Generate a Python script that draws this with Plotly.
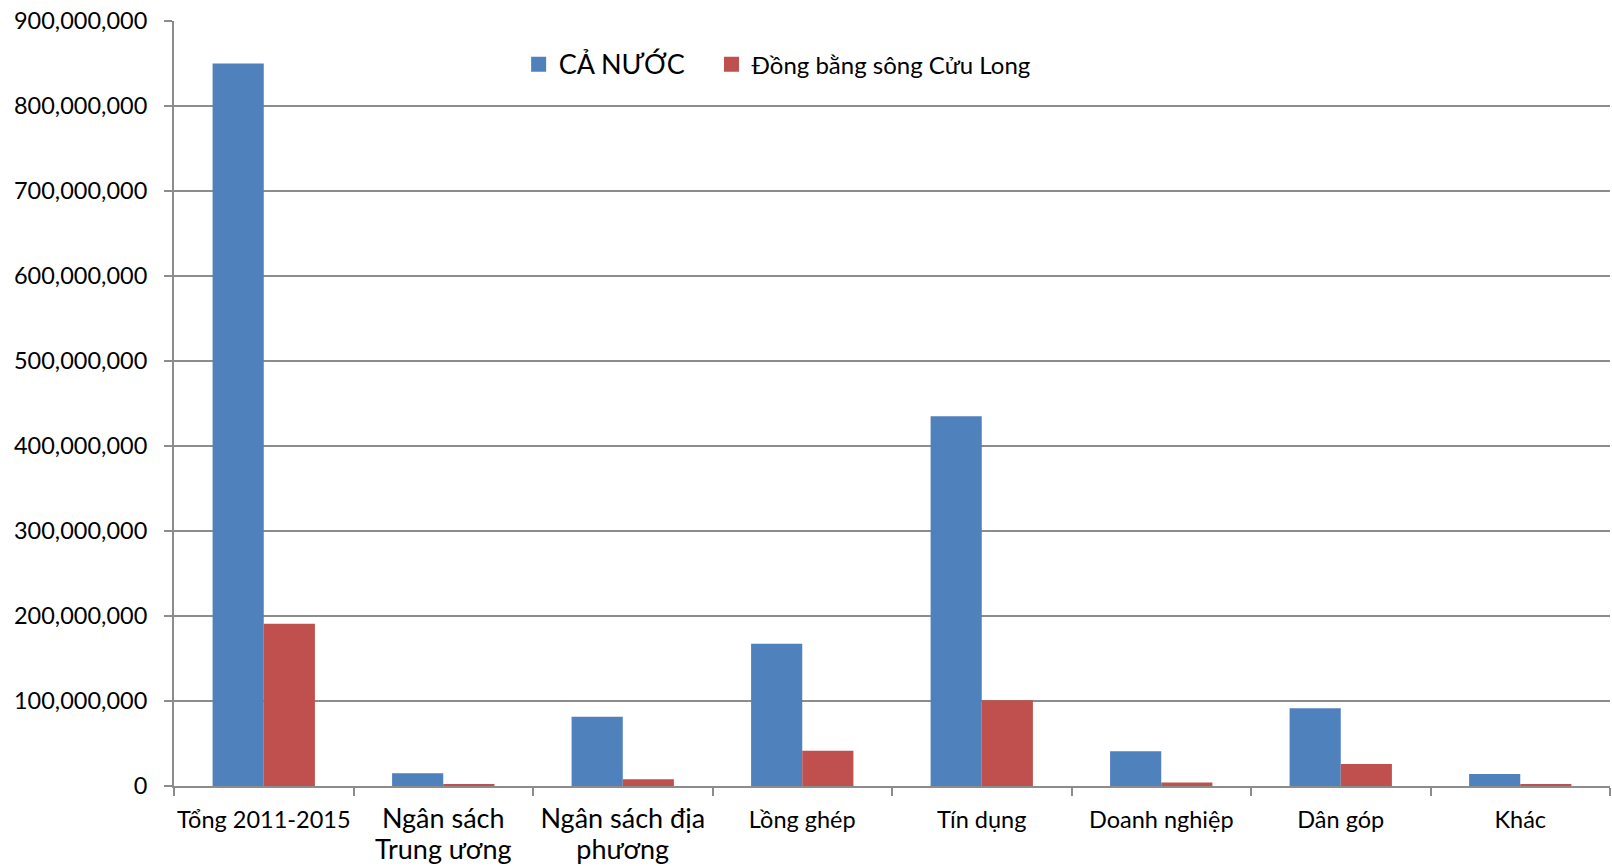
import plotly.graph_objects as go

# Funding sources for the 2011-2015 programme
categories = [
    "Tổng 2011-2015",
    "Ngân sách Trung ương",
    "Ngân sách địa phương",
    "Lồng ghép",
    "Tín dụng",
    "Doanh nghiệp",
    "Dân góp",
    "Khác",
]
tick_labels = [
    "Tổng 2011-2015",
    "<span style='font-size:27px'>Ngân sách<br>Trung ương</span>",
    "<span style='font-size:27px'>Ngân sách địa<br>phương</span>",
    "Lồng ghép",
    "Tín dụng",
    "Doanh nghiệp",
    "Dân góp",
    "Khác",
]
ca_nuoc = [850_000_000, 15_000_000, 81_500_000, 167_500_000, 435_000_000, 41_000_000, 91_500_000, 14_000_000]
dbscl = [191_000_000, 2_000_000, 8_000_000, 41_500_000, 101_000_000, 4_000_000, 26_000_000, 2_000_000]
y_ticks = [0, 100_000_000, 200_000_000, 300_000_000, 400_000_000,
           500_000_000, 600_000_000, 700_000_000, 800_000_000, 900_000_000]

series_names = ["<span style='font-size:27px'>CẢ NƯỚC</span>", "Đồng bằng sông Cửu Long"]
series_colors = ["#4F81BD", "#C0504D"]
legend_ids = ["legend", "legend2"]

FONT = "Lato"
GRID = "#8c8c8c"

fig = go.Figure()
for values, name, color in zip([ca_nuoc, dbscl], series_names, series_colors):
    fig.add_trace(go.Bar(
        x=categories, y=values, name=name, showlegend=False,
        marker=dict(color=color, line=dict(width=0)),
    ))
# legend keys drawn as square markers, one legend box per series
for name, color, lg in zip(series_names, series_colors, legend_ids):
    fig.add_trace(go.Scatter(
        x=[None], y=[None], mode="markers", name=name,
        marker=dict(symbol="square", size=15, color=color),
        showlegend=True, legend=lg,
    ))

legend_style = dict(
    orientation="h",
    xanchor="left",
    y=0.943, yanchor="middle",
    font=dict(family=FONT, size=24, color="black"),
    bgcolor="rgba(0,0,0,0)",
    itemsizing="trace",
)

fig.update_layout(
    width=1612, height=866,
    margin=dict(l=174, r=2, t=21, b=80),
    paper_bgcolor="white", plot_bgcolor="white",
    font=dict(family=FONT, size=23.5, color="black"),
    barmode="group",
    bargap=0.43, bargroupgap=0,
    legend=dict(x=0.24, **legend_style),
    legend2=dict(x=0.3743, **legend_style),
    xaxis=dict(
        categoryorder="array", categoryarray=categories,
        tickvals=categories, ticktext=tick_labels,
        tickson="boundaries", ticks="outside", ticklen=8, tickwidth=2,
        tickcolor=GRID,
        showline=True, linecolor=GRID, linewidth=2,
        showgrid=False, zeroline=False,
        ticklabelstandoff=12,
        automargin=False,
        tickangle=0,
    ),
    yaxis=dict(
        range=[0, 900_000_000],
        tickvals=y_ticks,
        tickformat=",d",
        ticks="outside", ticklen=8, tickwidth=2, tickcolor=GRID,
        showline=True, linecolor=GRID, linewidth=2,
        showgrid=True, gridcolor=GRID, gridwidth=2,
        zeroline=False,
        ticklabelstandoff=12,
        automargin=False,
    ),
)

fig.write_html("out.html")
